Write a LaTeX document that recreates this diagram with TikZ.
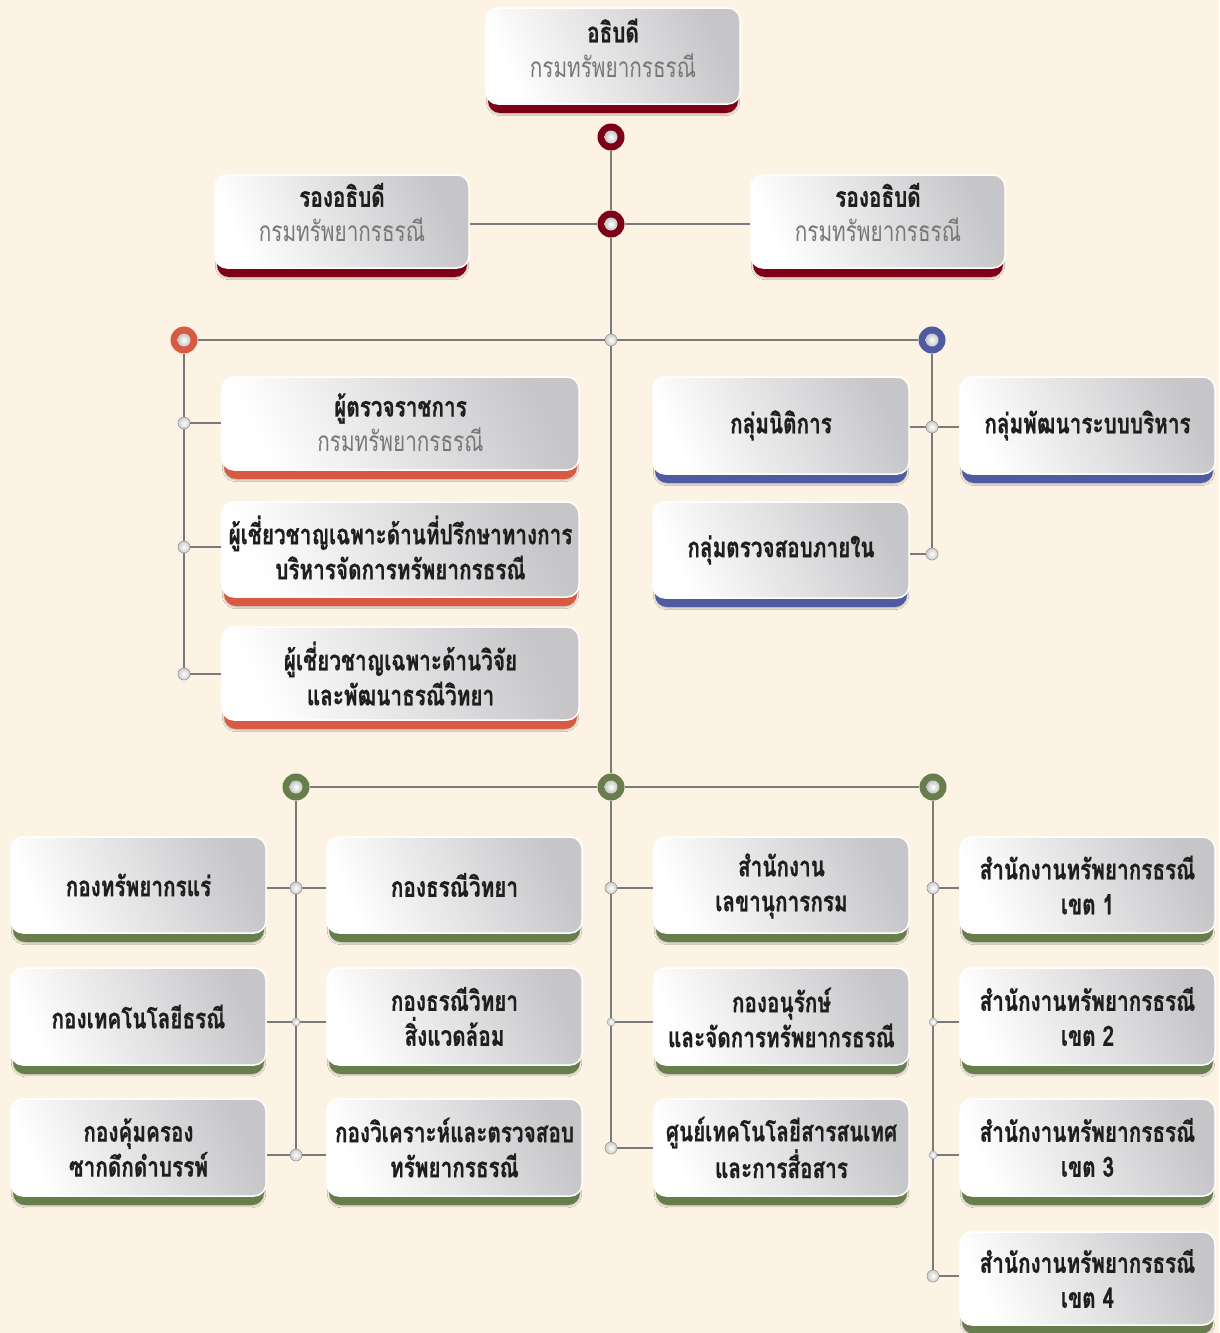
\documentclass[tikz,border=0pt]{standalone}
\usepackage{fontspec}
\newfontfamily\thai[Script=Thai,FakeStretch=0.74,BoldFeatures={FakeBold=0.6}]{Loma}
\usetikzlibrary{shadows.blur}
\definecolor{bg}{HTML}{FDF3E5}
\definecolor{maroon}{HTML}{7D0019}
\definecolor{orangered}{HTML}{D95A42}
\definecolor{blueish}{HTML}{4E5AA1}
\definecolor{olive}{HTML}{687D4C}
\definecolor{linegray}{HTML}{7A7A7A}
\definecolor{boxgray}{HTML}{C6C5C8}
\definecolor{subgray}{HTML}{777777}
\definecolor{txt}{HTML}{1E1E1E}
% name, x1, y1, x2, y2, colour, text, text shift
\newcommand\OrgBox[8]{%
  \fill[#6, rounded corners=12pt, blur shadow={shadow blur steps=6, shadow xshift=0pt, shadow yshift=-1pt, shadow opacity=25}] (#2+2,#3+20) rectangle (#4-2,#5+9);
  \node[orgbox, minimum width={#4-#2}, minimum height={#5-#3}] (#1) at ({(#2+#4)/2},{(#3+#5)/2}) {};
  \node[boxtext] (#1-t) at ({(#2+#4)/2},{(#3+#5)/2+#8}) {#7};
}
\newcommand\Sub[1]{{\color{subgray}\mdseries #1}}
\begin{document}
\begin{tikzpicture}[x=1pt,y=-1pt,
  line/.style={draw=linegray, line width=2.2pt},
  orgbox/.style={rectangle, rounded corners=12pt, draw=white, line width=1.5pt,
    top color=boxgray, bottom color=white, shading angle=-65, inner sep=0pt},
  boxtext/.style={inner sep=0pt, align=center, text=txt,
    font=\thai\bfseries\fontsize{28}{35}\selectfont},
  ring/.style={circle, fill=#1, minimum size=27pt, inner sep=0pt},
  jn/.style={circle, minimum size=12pt, inner sep=0pt, inner color=white, outer color=gray!40, draw=gray!80, line width=0.6pt},
  sjn/.style={circle, minimum size=8pt, inner sep=0pt, inner color=white, outer color=gray!40, draw=gray!70, line width=0.5pt},
  inner/.style={inner color=white, outer color=gray!45}]
\fill[bg] (0,0) rectangle (1219,1333);
\useasboundingbox (0,0) rectangle (1219,1333);

% boxes
\OrgBox{top}{486}{8}{740}{104}{maroon}{อธิบดี\\\Sub{กรมทรัพยากรธรณี}}{-8}
\OrgBox{dl}{215}{175}{469}{268}{maroon}{รองอธิบดี\\\Sub{กรมทรัพยากรธรณี}}{-9}
\OrgBox{dr}{751}{175}{1005}{268}{maroon}{รองอธิบดี\\\Sub{กรมทรัพยากรธรณี}}{-9}

\OrgBox{O1}{222}{377}{579}{470}{orangered}{ผู้ตรวจราชการ\\\Sub{กรมทรัพยากรธรณี}}{-1}
\OrgBox{O2}{222}{502}{579}{597}{orangered}{ผู้เชี่ยวชาญเฉพาะด้านที่ปรึกษาทางการ\\บริหารจัดการทรัพยากรธรณี}{-2}
\OrgBox{O3}{222}{627}{579}{720}{orangered}{ผู้เชี่ยวชาญเฉพาะด้านวิจัย\\และพัฒนาธรณีวิทยา}{0}

\OrgBox{N1}{653}{377}{909}{474}{blueish}{กลุ่มนิติการ}{0}
\OrgBox{N2}{960}{377}{1215}{474}{blueish}{กลุ่มพัฒนาระบบบริหาร}{0}
\OrgBox{N3}{653}{502}{909}{598}{blueish}{กลุ่มตรวจสอบภายใน}{0}

\OrgBox{A1}{11}{837}{266}{933}{olive}{กองทรัพยากรแร่}{0}
\OrgBox{A2}{11}{968}{266}{1065}{olive}{กองเทคโนโลยีธรณี}{0}
\OrgBox{A3}{11}{1099}{266}{1196}{olive}{กองคุ้มครอง\\ซากดึกดำบรรพ์}{0}
\OrgBox{B1}{327}{837}{582}{933}{olive}{กองธรณีวิทยา}{0}
\OrgBox{B2}{327}{968}{582}{1065}{olive}{กองธรณีวิทยา\\สิ่งแวดล้อม}{0}
\OrgBox{B3}{327}{1099}{582}{1196}{olive}{กองวิเคราะห์และตรวจสอบ\\ทรัพยากรธรณี}{0}
\OrgBox{C1}{654}{837}{909}{933}{olive}{สำนักงาน\\เลขานุการกรม}{1}
\OrgBox{C2}{654}{968}{909}{1065}{olive}{กองอนุรักษ์\\และจัดการทรัพยากรธรณี}{1}
\OrgBox{C3}{654}{1099}{909}{1196}{olive}{ศูนย์เทคโนโลยีสารสนเทศ\\และการสื่อสาร}{0}
\OrgBox{D1}{960}{837}{1215}{933}{olive}{สำนักงานทรัพยากรธรณี\\เขต 1}{0}
\OrgBox{D2}{960}{968}{1215}{1065}{olive}{สำนักงานทรัพยากรธรณี\\เขต 2}{0}
\OrgBox{D3}{960}{1099}{1215}{1196}{olive}{สำนักงานทรัพยากรธรณี\\เขต 3}{0}
\OrgBox{D4}{960}{1232}{1215}{1325}{olive}{สำนักงานทรัพยากรธรณี\\เขต 4}{0}

% junctions
\node[ring=maroon] (r1) at (611,137) {};
\node[ring=maroon] (r2) at (611,224) {};
\node[jn] (j1) at (611,340) {};
\node[ring=orangered] (ro) at (184,340) {};
\node[ring=blueish] (rb) at (932,340) {};
\node[jn] (jo1) at (184,423) {};
\node[jn] (jo2) at (184,547) {};
\node[jn] (jo3) at (184,674) {};
\node[jn] (jb1) at (932,427) {};
\node[jn] (jb2) at (932,554) {};
\node[ring=olive] (g1) at (296,787) {};
\node[ring=olive] (g2) at (611,787) {};
\node[ring=olive] (g3) at (933,787) {};
\node[jn] (ga1) at (296,888) {};
\node[sjn] (ga2) at (296,1022) {};
\node[jn] (ga3) at (296,1155) {};
\node[jn] (gc1) at (611,888) {};
\node[sjn] (gc2) at (611,1022) {};
\node[jn] (gc3) at (611,1148) {};
\node[jn] (gd1) at (933,888) {};
\node[sjn] (gd2) at (933,1022) {};
\node[sjn] (gd3) at (933,1155) {};
\node[jn] (gd4) at (933,1276) {};
\foreach \r in {r1,r2,ro,rb,g1,g2,g3}{\shade[inner] (\r.center) circle (6.5pt);}

% connectors
\draw[line] (r1) -- (r2) -- (j1) -- (g2);
\draw[line] (r2 -| dl.east) -- (r2) -- (r2 -| dr.west);
\draw[line] (ro) -- (j1) -- (rb);
\draw[line] (ro) -- (jo1) -- (jo2) -- (jo3);
\draw[line] (jo1) -- (jo1 -| O1.west);
\draw[line] (jo2) -- (jo2 -| O2.west);
\draw[line] (jo3) -- (jo3 -| O3.west);
\draw[line] (rb) -- (jb1) -- (jb2);
\draw[line] (jb1 -| N1.east) -- (jb1) -- (jb1 -| N2.west);
\draw[line] (jb2) -- (jb2 -| N3.east);
\draw[line] (g1) -- (g2) -- (g3);
\draw[line] (g1) -- (ga1) -- (ga2) -- (ga3);
\draw[line] (g2) -- (gc1) -- (gc2) -- (gc3);
\draw[line] (g3) -- (gd1) -- (gd2) -- (gd3) -- (gd4);
\draw[line] (ga1 -| A1.east) -- (ga1) -- (ga1 -| B1.west);
\draw[line] (ga2 -| A2.east) -- (ga2) -- (ga2 -| B2.west);
\draw[line] (ga3 -| A3.east) -- (ga3) -- (ga3 -| B3.west);
\draw[line] (gc1) -- (gc1 -| C1.west);
\draw[line] (gc2) -- (gc2 -| C2.west);
\draw[line] (gc3) -- (gc3 -| C3.west);
\draw[line] (gd1) -- (gd1 -| D1.west);
\draw[line] (gd2) -- (gd2 -| D2.west);
\draw[line] (gd3) -- (gd3 -| D3.west);
\draw[line] (gd4) -- (gd4 -| D4.west);
\end{tikzpicture}
\end{document}
